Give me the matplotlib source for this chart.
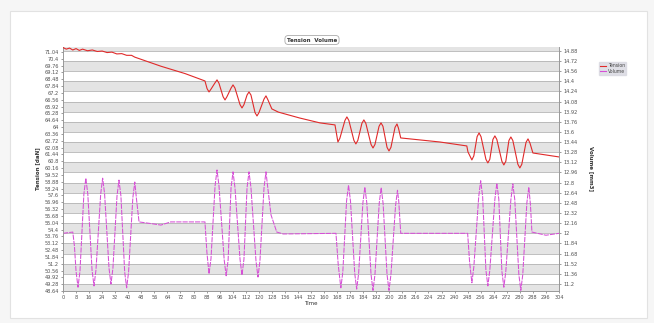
import numpy as np
import matplotlib
matplotlib.use("Agg")
import matplotlib.pyplot as plt
from matplotlib.patches import FancyBboxPatch
from matplotlib.lines import Line2D

# tension curve [daN] vs time
tension_time = [0, 2, 4, 6, 8, 10, 12, 15, 18, 21, 24, 27, 30, 33, 36, 39, 42, 44,
                60, 75, 87, 88.3, 89.5, 90.7,
                93.2, 94.4, 95.6, 98.1, 99.3, 100.5, 103.0, 104.2, 105.4,
                108.5, 109.7, 110.9, 112.8, 114, 115.2, 117.7, 118.9, 120.1,
                123.2, 124.4, 125.6, 128, 132, 145, 157.5, 166.7,
                168.5, 169.7, 172.8, 174, 175.2, 178.3, 179.5, 180.7,
                183.2, 184.4, 185.6, 188.8, 190, 191.2, 193.7, 194.9, 196.1,
                198.6, 199.8, 201.0, 203.5, 204.7, 205.6, 207, 231,
                247.5, 248.2, 250.6, 251.8, 253.8, 255, 256.2, 259.2, 260.4, 261.6,
                263.5, 264.7, 265.9, 269.0, 270.2, 271.4, 273.3, 274.5, 275.7,
                278.8, 280, 281.2, 283.8, 285, 286.2, 288, 304]
tension = [71.45, 71.30, 71.40, 71.22, 71.35, 71.18, 71.30, 71.15, 71.22, 71.08,
           71.12, 70.98, 71.02, 70.85, 70.88, 70.72, 70.72, 70.55,
           69.70, 69.00, 68.32, 67.60, 67.29, 67.55,
           68.15, 68.42, 68.10, 66.85, 66.54, 66.85, 67.65, 67.95, 67.65,
           66.10, 65.79, 66.10, 67.00, 67.29, 67.00, 65.35, 65.04, 65.35,
           66.62, 66.92, 66.55, 65.70, 65.40, 64.85, 64.39, 64.20,
           62.60, 62.95, 64.62, 64.95, 64.62, 62.75, 62.42, 62.75,
           64.35, 64.67, 64.35, 62.37, 62.04, 62.37, 64.07, 64.39, 64.07,
           62.10, 61.76, 62.10, 63.97, 64.29, 63.90, 62.98, 62.60,
           62.23, 61.67, 60.92, 61.30, 63.10, 63.45, 63.10, 60.98, 60.64, 60.98,
           62.84, 63.17, 62.84, 60.79, 60.45, 60.79, 62.74, 63.07, 62.74,
           60.51, 60.17, 60.51, 62.57, 62.89, 62.50, 61.57, 61.20]

# volume curve [mm3] vs time
volume_time = [0, 6, 7.0, 8.0, 9.2, 10.4, 12.8, 14, 15.2, 17.8, 19, 20.2,
               23.1, 24.3, 25.5, 28.2, 29.4, 30.6, 33.1, 34.3, 35.5,
               37.8, 39, 40.2, 42.8, 44, 45.0, 46.6, 55, 60, 66, 87,
               88.2, 89.5, 90.7, 93.2, 94.4, 95.6, 98.8, 100, 101.2,
               103.0, 104.2, 105.4, 108.5, 109.7, 110.9, 112.8, 114, 115.2,
               118.3, 119.5, 120.7, 123.2, 124.4, 125.6, 127.5, 131, 135,
               167.3, 168.7, 170.3, 171.5, 173.8, 175, 176.2, 178.8, 180, 181.2,
               183.8, 185, 186.2, 188.8, 190, 191.2, 193.8, 195, 196.2,
               198.6, 199.8, 201.0, 203.8, 205, 205.8, 207, 248,
               249.2, 250.6, 251.8, 254.8, 256, 257.2, 259.2, 260.4, 261.6,
               264.7, 265.9, 267.1, 269.0, 270.2, 271.4, 274.5, 275.7, 276.9,
               279.4, 280.6, 281.8, 284.3, 285.5, 286.5, 287.4, 296, 304]
volume = [12.00, 12.02, 11.80, 11.40, 11.15, 11.40, 12.62, 12.87, 12.62, 11.42, 11.17, 11.42,
          12.62, 12.87, 12.62, 11.45, 11.20, 11.45, 12.59, 12.84, 12.59,
          11.39, 11.14, 11.39, 12.56, 12.81, 12.55, 12.18, 12.15, 12.13, 12.18, 12.18,
          11.70, 11.36, 11.60, 12.75, 13.00, 12.75, 11.58, 11.33, 11.58,
          12.72, 12.97, 12.72, 11.59, 11.34, 11.59, 12.72, 12.97, 12.72,
          11.56, 11.31, 11.56, 12.72, 12.97, 12.70, 12.29, 12.02, 11.99,
          12.00, 11.50, 11.14, 11.39, 12.51, 12.76, 12.51, 11.37, 11.12, 11.37,
          12.48, 12.73, 12.48, 11.35, 11.10, 11.35, 12.47, 12.72, 12.47,
          11.35, 11.10, 11.35, 12.43, 12.68, 12.50, 12.00, 12.00,
          11.55, 11.22, 11.47, 12.58, 12.83, 12.58, 11.42, 11.17, 11.42,
          12.54, 12.79, 12.54, 11.40, 11.15, 11.40, 12.53, 12.78, 12.53,
          11.35, 11.10, 11.35, 12.48, 12.73, 12.45, 12.02, 11.97, 12.00]

time_ticks = np.arange(0, 305, 8)
tension_ticks = np.round(np.arange(48.64, 71.05, 0.64), 2)
volume_ticks = np.round(np.arange(11.2, 14.89, 0.16), 2)

RED = "#e02a2a"
MAGENTA = "#d64fd6"
TICK_COLOR = "#505050"


def fmt(v):
    s = f"{v:.2f}".rstrip("0").rstrip(".")
    return s


fig = plt.figure(figsize=(6.54, 3.23), dpi=100, facecolor="#f6f6f6")

# white card behind the chart
card = FancyBboxPatch((10 / 654, 5 / 323), 637 / 654, 307 / 323,
                      boxstyle="square,pad=0", transform=fig.transFigure,
                      facecolor="white", edgecolor="#e2e2e2", linewidth=0.8, zorder=0)
fig.patches.append(card)

ax = fig.add_axes([63 / 654, 32 / 323, 496 / 654, 244 / 323])
ax.set_zorder(2)
ax2 = ax.twinx()
ax2.set_zorder(1)
ax.set_facecolor("none")
ax2.set_facecolor("white")

ax.set_xlim(0, 304)
ax.set_ylim(48.64, 71.5)
ax2.set_ylim(11.09, 14.94)

# alternating bands aligned with the volume ticks
ax2.axhspan(14.88, 14.94, color="#e4e4e4", lw=0, zorder=0)
for i in range(len(volume_ticks) - 1):
    lo, hi = volume_ticks[i], volume_ticks[i + 1]
    k = int(round((14.88 - hi) / 0.16))
    if k % 2 == 1:
        ax2.axhspan(lo, hi, color="#e4e4e4", lw=0, zorder=0)
ax2.axhspan(11.09, 11.2, color="#e4e4e4", lw=0, zorder=0)
for v in volume_ticks:
    ax2.axhline(v, color="#b4b4b4", lw=0.6, zorder=0.5)

ax.plot(tension_time, tension, color=RED, lw=0.8, zorder=3)
ax2.plot(volume_time, volume, color=MAGENTA, lw=0.75, dashes=(5, 1), zorder=3)

ax.set_xticks(time_ticks)
ax.set_xticklabels([str(t) for t in time_ticks])
ax.set_yticks(tension_ticks)
ax.set_yticklabels([fmt(v) for v in tension_ticks])
ax2.set_yticks(volume_ticks)
ax2.set_yticklabels([fmt(v) for v in volume_ticks])

for a in (ax, ax2):
    a.tick_params(labelsize=3.6, colors=TICK_COLOR, length=1.5, width=0.4, pad=1.5)
    a.spines["top"].set_visible(False)
    for side in ("left", "right", "bottom"):
        a.spines[side].set_color("#999999")
        a.spines[side].set_linewidth(0.6)

ax.set_xlabel("Time", fontsize=4, color="#333333", labelpad=0.5)
ax.set_ylabel("Tension [daN]", fontsize=4, color="#333333", fontweight="bold", labelpad=3)
ax2.set_ylabel("Volume [mm3]", fontsize=4, color="#333333", fontweight="bold",
               rotation=270, labelpad=12)

# title box
fig.text(312 / 654, 1 - 40 / 323, "Tension  Volume", fontsize=4, fontweight="bold",
         color="#333333", ha="center", va="center",
         bbox=dict(boxstyle="round,pad=0.35,rounding_size=0.6", facecolor="white",
                   edgecolor="#aaaaaa", linewidth=0.6))

handles = [Line2D([], [], color=RED, lw=0.8), Line2D([], [], color=MAGENTA, lw=0.8)]
leg = fig.legend(handles, ["Tension", "Volume"], loc="upper left",
                 bbox_to_anchor=(599 / 654, 1 - 62 / 323), fontsize=3.3,
                 frameon=True, handlelength=1.2, handletextpad=0.4, borderpad=0.3,
                 labelspacing=0.1, borderaxespad=0, fancybox=False)
leg.get_frame().set_facecolor("#d8d8e0")
leg.get_frame().set_edgecolor("#d8d8e0")
for t in leg.get_texts():
    t.set_color("#444444")

fig.savefig("out.png", dpi=100, facecolor=fig.get_facecolor())
